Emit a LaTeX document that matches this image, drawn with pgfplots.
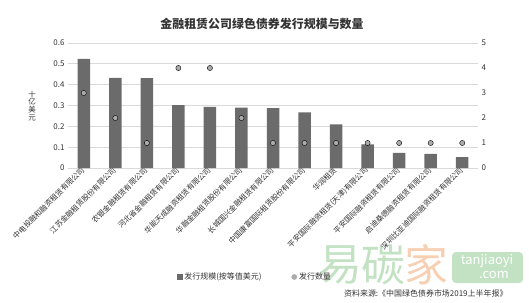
\documentclass[border=0pt]{standalone}
\usepackage{fontspec}
\setmainfont{Noto Sans CJK SC}
\usepackage{pgfplots}
\pgfplotsset{compat=1.18}
\definecolor{barcol}{HTML}{6B6B6B}
\definecolor{dotcol}{HTML}{ABABAB}
\definecolor{gridcol}{HTML}{D9D9D9}
\definecolor{txtcol}{HTML}{333333}
\definecolor{wmgreen}{HTML}{C3E2C3}
\definecolor{wmorange}{HTML}{F7D0B4}
\begin{document}
\begin{tikzpicture}[x=1bp,y=1bp]
\useasboundingbox (0,0) rectangle (529,302);
\node[text=wmgreen, font=\fontsize{44}{44}\selectfont] at (340,37) {易};
\node[text=wmgreen, font=\fontsize{44}{44}\selectfont] at (383,37) {碳};
\node[text=wmorange, font=\fontsize{44}{44}\selectfont] at (426,37) {家};
\fill[wmgreen, rounded corners=4bp] (452,19) rectangle (523,50);
\node[text=white, font=\fontsize{13}{13}\selectfont] at (487,41) {tanjiaoyi};
\node[text=white, font=\fontsize{13}{13}\selectfont] at (494,27) {.com};
\begin{axis}[
  at={(68bp,134bp)}, anchor=south west,
  scale only axis, width=410bp, height=125bp,
  xmin=-0.5, xmax=12.5, ymin=0, ymax=0.6,
  ytick={0,0.1,0.2,0.3,0.4,0.5,0.6},
  xtick={0,...,12},
  xticklabels={中电投融和融资租赁有限公司,江苏金融租赁股份有限公司,农银金融租赁有限公司,河北省金融租赁有限公司,华能天成融资租赁有限公司,华融金融租赁股份有限公司,长城国兴金融租赁有限公司,中国康富国际租赁股份有限公司,华润租赁,平安国际融资租赁(天津)有限公司,平安国际融资租赁有限公司,启迪桑德融资租赁有限公司,深圳比亚迪国际融资租赁有限公司},
  xticklabel style={rotate=45, anchor=east, font=\fontsize{7.5}{8}\selectfont, text=txtcol, inner sep=1bp},
  yticklabel style={font=\fontsize{8}{9}\selectfont, text=txtcol},
  /pgf/number format/assume math mode=true,
  major tick length=0,
  axis x line*=bottom, axis y line*=left,
  x axis line style={gridcol, line width=0.8bp, -},
  y axis line style={draw=none},
  ymajorgrids, grid style={gridcol, line width=0.8bp},
]
\addplot[ybar, bar width=12.5bp, fill=barcol, draw=none] coordinates {
 (0,0.524) (1,0.433) (2,0.432) (3,0.302) (4,0.294) (5,0.290) (6,0.287)
 (7,0.267) (8,0.210) (9,0.114) (10,0.073) (11,0.068) (12,0.052)};
\end{axis}
\begin{axis}[
  at={(68bp,134bp)}, anchor=south west,
  scale only axis, width=410bp, height=125bp,
  xmin=-0.5, xmax=12.5, ymin=0, ymax=5,
  ytick={0,1,2,3,4,5},
  axis y line*=right, axis x line=none,
  y axis line style={draw=none},
  major tick length=0,
  yticklabel style={font=\fontsize{8}{9}\selectfont, text=txtcol},
  /pgf/number format/assume math mode=true,
  legend style={at={(0.456,-0.872)}, anchor=center, legend columns=2, draw=none, fill=none,
    font=\fontsize{8}{9}\selectfont, text=txtcol,
    /tikz/every even column/.append style={column sep=28bp}},
]
\addlegendimage{legend image code/.code={\fill[barcol] (0bp,-2.5bp) rectangle (5bp,2.5bp);}}
\addlegendentry{发行规模(按等值美元)}
\addplot[only marks, mark=*, mark size=2.6bp, mark options={draw=none, fill=dotcol},
  legend image code/.code={\fill[dotcol] (2.5bp,0bp) circle (2.6bp);}] coordinates {
 (0,3) (1,2) (2,1) (3,4) (4,4) (5,2) (6,1) (7,1) (8,1) (9,1) (10,1) (11,1) (12,1)};
\addlegendentry{发行数量}
\end{axis}
\node[font=\fontsize{12}{14}\selectfont\bfseries, text=txtcol] at (262,278) {金融租赁公司绿色债券发行规模与数量};
\node[align=center, font=\fontsize{7.5}{7.8}\selectfont, text=txtcol, inner sep=0] at (32,196) {十\\亿\\美\\元};
\node[anchor=east, font=\fontsize{8}{9}\selectfont, text=txtcol] at (511,9) {资料来源:《中国绿色债券市场2019上半年报》};
\end{tikzpicture}
\end{document}
